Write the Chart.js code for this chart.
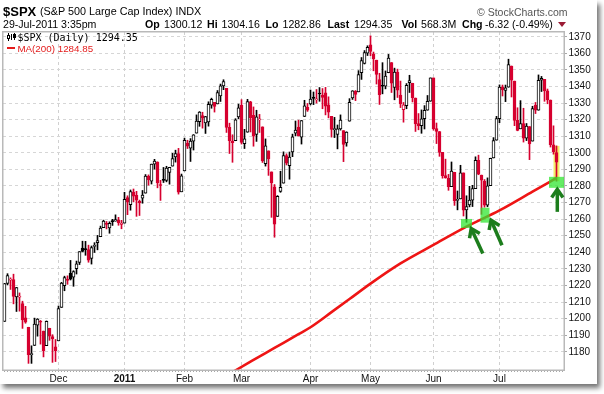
<!DOCTYPE html>
<html>
<head>
<meta charset="utf-8">
<title>$SPX</title>
<script src="https://cdn.jsdelivr.net/npm/chart.js@4.4.1/dist/chart.umd.min.js"></script>
<style>
  html, body { margin: 0; padding: 0; background: #fff; }
  #wrap { position: relative; width: 604px; height: 394px; overflow: hidden; font-family: 'Liberation Sans', Arial, sans-serif; color: #000; }
  #frame { position: absolute; left: 0; top: 0; width: 597px; height: 384px; background: #fff; box-shadow: 3px 4px 5px rgba(0,0,0,.55); }
  #c { position: absolute; left: 0; top: 0; }
  .t { position: absolute; white-space: nowrap; line-height: 1; }
  .hd { top: 19.2px; font-size: 10.6px; }
</style>
</head>
<body>
<div id="wrap">
  <div id="frame"></div>
  <canvas id="c" width="604" height="394"></canvas>

  <div class="t" style="left:3px;top:5px;font-size:13px;font-weight:bold">$SPX</div>
  <div class="t" style="left:40px;top:6.4px;font-size:10.8px">(S&amp;P 500 Large Cap Index) INDX</div>
  <div class="t" style="left:477px;top:6.9px;font-size:10.5px;color:#555">© StockCharts.com</div>

  <div class="t hd" style="left:3px">29-Jul-2011 3:35pm</div>
  <div class="t hd" style="left:145px;font-weight:bold">Op</div>
  <div class="t hd" style="left:164px">1300.12</div>
  <div class="t hd" style="left:207px;font-weight:bold">Hi</div>
  <div class="t hd" style="left:221.5px">1304.16</div>
  <div class="t hd" style="left:265.5px;font-weight:bold">Lo</div>
  <div class="t hd" style="left:282.5px">1282.86</div>
  <div class="t hd" style="left:327.5px;font-weight:bold">Last</div>
  <div class="t hd" style="left:354px">1294.35</div>
  <div class="t hd" style="left:401.5px;font-weight:bold">Vol</div>
  <div class="t hd" style="left:421px">568.3M</div>
  <div class="t hd" style="left:462px;font-weight:bold">Chg</div>
  <div class="t hd" style="left:485px">-6.32 (-0.49%)</div>
  <div class="t" style="left:558px;top:22px;width:0;height:0;border-left:4px solid transparent;border-right:4px solid transparent;border-top:5px solid #9b1b35"></div>

  <svg class="t" style="left:7px;top:33px" width="10" height="8">
    <path d="M1.5 0v8M4.5 1v6M7.5 0v7" stroke="#000" stroke-width="1"/>
    <rect x="0.5" y="2.5" width="2" height="3" fill="#fff" stroke="#000"/>
    <rect x="6.5" y="1.5" width="2" height="3" fill="#000" stroke="#000"/>
  </svg>
  <div class="t" style="left:17.4px;top:32.6px;font-family:'DejaVu Sans Mono',monospace;font-size:10px">$SPX (Daily) 1294.35</div>
  <div class="t" style="left:7px;top:47px;width:8px;height:2px;background:#e41b1b"></div>
  <div class="t" style="left:17.4px;top:44px;font-size:9.8px;color:#e41b1b">MA(200) 1284.85</div>
</div>

<script>
// trading days, by month
var months = ['2010-11', '2010-12', '2011-01', '2011-02', '2011-03', '2011-04', '2011-05', '2011-06', '2011-07'];
var monthNames = ['', 'Dec', '2011', 'Feb', 'Mar', 'Apr', 'May', 'Jun', 'Jul'];
var monthDays = [
  [4, 5, 8, 9, 10, 11, 12, 15, 16, 17, 18, 19, 22, 23, 24, 26, 29, 30],
  [1, 2, 3, 6, 7, 8, 9, 10, 13, 14, 15, 16, 17, 20, 21, 22, 23, 27, 28, 29, 30, 31],
  [3, 4, 5, 6, 7, 10, 11, 12, 13, 14, 18, 19, 20, 21, 24, 25, 26, 27, 28, 31],
  [1, 2, 3, 4, 7, 8, 9, 10, 11, 14, 15, 16, 17, 18, 22, 23, 24, 25, 28],
  [1, 2, 3, 4, 7, 8, 9, 10, 11, 14, 15, 16, 17, 18, 21, 22, 23, 24, 25, 28, 29, 30, 31],
  [1, 4, 5, 6, 7, 8, 11, 12, 13, 14, 15, 18, 19, 20, 21, 25, 26, 27, 28, 29],
  [2, 3, 4, 5, 6, 9, 10, 11, 12, 13, 16, 17, 18, 19, 20, 23, 24, 25, 26, 27, 31],
  [1, 2, 3, 6, 7, 8, 9, 10, 13, 14, 15, 16, 17, 20, 21, 22, 23, 24, 27, 28, 29, 30],
  [1, 5, 6, 7, 8, 11, 12, 13, 14, 15, 18, 19, 20, 21, 22, 25, 26, 27, 28, 29]
];

var open = [
  1198.3, 1221.2, 1223.2, 1223.6, 1213.1, 1213.0, 1209.1, 1200.4, 1194.8, 1178.3, 1183.8, 1196.1, 1198.1, 1192.5, 1183.7, 1194.2, 1189.1, 1183.0,
  1186.6, 1206.8, 1219.9, 1223.9, 1227.3, 1225.0, 1230.1, 1233.9, 1242.5, 1241.8, 1241.6, 1236.3, 1243.6, 1245.8, 1249.4, 1254.9, 1257.5, 1254.7, 1259.1, 1258.8, 1259.4, 1256.8,
  1257.6, 1273.0, 1268.8, 1276.3, 1274.4, 1270.8, 1272.6, 1275.7, 1285.8, 1282.9, 1293.2, 1294.5, 1280.9, 1283.6, 1283.3, 1288.2, 1292.0, 1297.5, 1299.6, 1276.5,
  1289.1, 1305.9, 1302.8, 1307.0, 1311.9, 1318.8, 1322.5, 1318.1, 1318.7, 1328.7, 1330.4, 1329.5, 1334.4, 1340.4, 1338.9, 1315.4, 1307.1, 1307.3, 1321.6,
  1328.6, 1305.5, 1312.4, 1330.7, 1322.7, 1311.1, 1319.9, 1315.7, 1293.4, 1301.2, 1288.5, 1279.5, 1261.6, 1276.7, 1281.7, 1298.3, 1292.2, 1300.6, 1311.8, 1315.5, 1309.4, 1321.9, 1327.4,
  1329.5, 1333.6, 1332.0, 1335.9, 1334.8, 1336.2, 1329.0, 1322.0, 1314.0, 1311.1, 1314.5, 1313.4, 1306.0, 1319.1, 1333.2, 1337.1, 1336.8, 1348.4, 1353.9, 1360.1,
  1365.2, 1359.8, 1355.9, 1344.2, 1340.2, 1340.2, 1348.3, 1354.5, 1339.4, 1348.7, 1334.8, 1326.1, 1328.5, 1342.4, 1342.0, 1333.1, 1317.7, 1316.4, 1320.6, 1325.7, 1331.1,
  1345.2, 1314.6, 1312.9, 1300.3, 1286.3, 1284.6, 1279.6, 1288.3, 1271.3, 1272.2, 1287.9, 1265.5, 1268.6, 1271.5, 1278.4, 1295.5, 1286.6, 1283.0, 1268.4, 1280.2, 1296.9, 1307.6,
  1320.6, 1339.6, 1337.6, 1339.6, 1352.4, 1343.3, 1319.6, 1314.5, 1317.7, 1308.9, 1315.9, 1307.1, 1328.7, 1325.7, 1343.8, 1344.3, 1337.4, 1331.9, 1304.8, 1300.1
];
var high = [
  1221.3, 1227.1, 1224.6, 1226.8, 1218.8, 1215.5, 1210.5, 1207.4, 1194.8, 1183.6, 1200.3, 1200.0, 1198.9, 1192.5, 1198.6, 1194.2, 1190.3, 1187.4,
  1207.6, 1221.9, 1225.6, 1225.8, 1235.1, 1228.9, 1234.7, 1240.4, 1246.7, 1246.6, 1244.3, 1243.8, 1245.8, 1250.2, 1255.8, 1259.4, 1258.6, 1258.4, 1259.9, 1262.6, 1261.1, 1259.3,
  1276.2, 1274.1, 1277.6, 1278.2, 1276.8, 1271.5, 1277.3, 1286.9, 1286.7, 1293.2, 1296.1, 1294.6, 1283.4, 1291.2, 1291.9, 1291.3, 1299.7, 1301.6, 1302.7, 1287.2,
  1308.9, 1307.6, 1308.6, 1311.0, 1322.9, 1324.9, 1324.5, 1322.0, 1330.8, 1333.0, 1330.4, 1337.6, 1341.5, 1344.1, 1338.9, 1317.9, 1310.9, 1320.6, 1329.4,
  1332.1, 1314.2, 1332.3, 1331.1, 1327.7, 1325.7, 1323.2, 1315.7, 1308.4, 1301.2, 1288.5, 1280.9, 1274.2, 1288.9, 1300.6, 1299.4, 1300.5, 1311.3, 1319.2, 1319.7, 1319.5, 1331.7, 1329.8,
  1337.9, 1336.7, 1338.2, 1339.4, 1338.8, 1339.5, 1333.8, 1322.0, 1321.4, 1316.8, 1322.9, 1313.4, 1312.7, 1332.7, 1337.5, 1337.6, 1349.6, 1357.5, 1361.7, 1364.6,
  1370.6, 1360.8, 1355.9, 1348.0, 1354.4, 1349.4, 1359.4, 1354.5, 1351.1, 1350.5, 1343.3, 1330.4, 1341.8, 1346.8, 1342.0, 1333.1, 1323.7, 1325.9, 1328.5, 1334.6, 1345.2,
  1345.2, 1318.0, 1312.9, 1300.3, 1296.2, 1287.0, 1294.5, 1288.3, 1277.0, 1292.5, 1287.9, 1274.1, 1279.8, 1280.4, 1297.6, 1298.6, 1286.6, 1283.9, 1284.9, 1296.8, 1309.2, 1322.0,
  1341.0, 1340.9, 1340.9, 1356.5, 1352.4, 1343.3, 1327.2, 1331.5, 1326.9, 1317.7, 1315.9, 1328.1, 1330.4, 1347.0, 1346.1, 1344.3, 1338.5, 1331.9, 1316.3, 1304.2
];
var low = [
  1198.3, 1220.3, 1217.6, 1208.9, 1204.3, 1204.5, 1194.1, 1197.2, 1173.0, 1173.0, 1183.8, 1189.4, 1184.6, 1176.9, 1183.7, 1186.9, 1173.6, 1174.1,
  1186.6, 1206.8, 1216.8, 1220.7, 1223.3, 1219.5, 1226.9, 1232.6, 1240.3, 1238.2, 1234.0, 1232.9, 1239.9, 1241.5, 1249.4, 1254.9, 1254.1, 1251.5, 1256.2, 1258.8, 1256.3, 1254.2,
  1257.6, 1262.7, 1265.4, 1270.4, 1261.7, 1262.2, 1269.6, 1275.7, 1280.5, 1281.2, 1290.2, 1278.9, 1271.3, 1282.1, 1282.5, 1281.1, 1292.0, 1294.4, 1275.1, 1276.5,
  1289.1, 1302.6, 1294.8, 1301.7, 1311.9, 1316.0, 1314.9, 1311.7, 1316.1, 1326.9, 1324.6, 1329.5, 1331.0, 1338.1, 1312.3, 1299.6, 1294.3, 1307.3, 1320.6,
  1305.3, 1302.6, 1312.4, 1312.6, 1304.0, 1306.9, 1312.3, 1294.2, 1292.0, 1286.4, 1261.1, 1249.1, 1261.6, 1276.2, 1281.7, 1292.7, 1284.1, 1297.7, 1310.2, 1310.2, 1305.3, 1321.9, 1325.0,
  1328.9, 1329.1, 1330.0, 1331.1, 1326.6, 1322.9, 1321.1, 1309.5, 1309.2, 1302.4, 1313.7, 1294.7, 1304.0, 1319.1, 1332.2, 1331.5, 1336.8, 1344.3, 1353.6, 1358.7,
  1358.6, 1349.5, 1341.5, 1329.2, 1335.6, 1338.6, 1348.3, 1336.4, 1332.0, 1333.4, 1327.3, 1318.5, 1326.6, 1336.4, 1330.7, 1312.9, 1313.9, 1311.8, 1314.4, 1325.7, 1331.1,
  1313.7, 1305.6, 1297.9, 1284.7, 1284.7, 1277.4, 1279.6, 1268.3, 1265.6, 1272.2, 1261.9, 1258.1, 1267.4, 1267.6, 1278.4, 1286.8, 1262.9, 1267.2, 1267.5, 1280.2, 1296.9, 1307.6,
  1318.2, 1334.3, 1330.9, 1339.6, 1333.7, 1316.4, 1313.3, 1314.5, 1306.5, 1307.4, 1295.9, 1307.1, 1323.7, 1325.7, 1337.0, 1331.1, 1329.6, 1303.5, 1299.2, 1282.9
];
var close = [
  1221.1, 1225.9, 1223.3, 1213.4, 1218.7, 1213.5, 1199.2, 1197.8, 1178.3, 1178.6, 1196.7, 1199.7, 1197.8, 1180.7, 1198.4, 1189.4, 1187.8, 1180.6,
  1206.1, 1221.5, 1224.7, 1223.1, 1223.8, 1228.3, 1233.0, 1240.4, 1240.5, 1241.6, 1235.2, 1242.9, 1243.9, 1247.1, 1254.6, 1258.8, 1256.8, 1257.5, 1258.5, 1259.8, 1257.9, 1257.6,
  1271.9, 1270.2, 1276.6, 1273.9, 1271.5, 1269.8, 1274.5, 1286.0, 1283.8, 1293.2, 1295.0, 1281.9, 1280.3, 1283.4, 1290.8, 1291.2, 1296.6, 1299.5, 1276.3, 1286.1,
  1307.6, 1304.0, 1307.1, 1310.9, 1319.1, 1324.6, 1320.9, 1321.9, 1329.2, 1332.3, 1328.0, 1336.3, 1340.4, 1343.0, 1315.4, 1307.4, 1306.1, 1319.9, 1327.2,
  1306.3, 1308.4, 1331.0, 1321.2, 1310.1, 1321.8, 1320.0, 1295.1, 1304.3, 1296.4, 1281.9, 1256.9, 1273.7, 1279.2, 1298.4, 1293.8, 1297.5, 1309.7, 1313.8, 1310.2, 1319.4, 1328.3, 1325.8,
  1332.4, 1332.9, 1332.6, 1335.5, 1333.5, 1328.2, 1324.5, 1314.2, 1314.4, 1314.5, 1319.7, 1305.1, 1312.6, 1330.4, 1337.4, 1335.3, 1347.2, 1355.7, 1360.5, 1363.6,
  1361.2, 1356.6, 1347.3, 1335.1, 1340.2, 1346.3, 1357.2, 1342.1, 1348.7, 1337.8, 1329.5, 1329.0, 1340.7, 1343.6, 1333.3, 1317.4, 1316.3, 1320.5, 1325.7, 1331.1, 1345.2,
  1314.6, 1312.9, 1300.2, 1286.2, 1284.9, 1279.6, 1289.0, 1271.0, 1271.8, 1287.9, 1265.4, 1267.6, 1271.5, 1278.4, 1295.5, 1287.1, 1283.5, 1268.5, 1280.1, 1296.7, 1307.4, 1320.6,
  1339.7, 1337.9, 1339.2, 1353.2, 1343.8, 1319.5, 1313.6, 1317.7, 1308.9, 1316.1, 1305.4, 1326.7, 1325.8, 1343.8, 1345.0, 1337.4, 1331.9, 1304.9, 1300.7, 1294.4
];
var prevClose = 1198.0; // close of 3-Nov-2010

// MA(200) at these bars
var maBars = [75, 82, 87, 93, 98, 102, 109, 115, 122, 132, 143, 154, 165, 176, 184];
var maValues = [1166.7, 1174.0, 1179.2, 1185.4, 1190.6, 1194.8, 1203.9, 1211.8, 1221.1, 1233.3, 1244.5, 1255.5, 1265.3, 1276.6, 1284.85];

// green touch marks on the MA
var markBars = [154, 160, 184];
var markValues = [1257.4, 1262.4, 1282.2];

var yTicks = [1180, 1370, 10];

// ---- build
var labels = [];
var tickText = [];
months.forEach(function (m, k) {
  monthDays[k].forEach(function (d, j) {
    labels.push(m + '-' + (d < 10 ? '0' + d : d));
    tickText.push(j === 0 ? monthNames[k] : '');
  });
});
// room on the right of the last bar
labels.push('', '');
tickText.push('', '');

var BLACK = '#000000', RED = '#d6002f';
var colors = [], fills = [], wicks = [], bodies = [];
for (var i = 0; i < close.length; i++) {
  var pc = i === 0 ? prevClose : close[i - 1];
  var col = close[i] >= pc ? BLACK : RED;
  colors.push(col);
  fills.push(close[i] > open[i] ? '#ffffff' : col);
  wicks.push([low[i], high[i]]);
  bodies.push([Math.min(open[i], close[i]), Math.max(open[i], close[i])]);
}
var maData = labels.map(function () { return null; });
maBars.forEach(function (b, j) { maData[b] = maValues[j]; });

var boldIndex = tickText.indexOf('2011');

var extras = {
  id: 'extras',
  beforeDatasetsDraw: function (chart) {
    var ctx = chart.ctx, x = chart.scales.x, y = chart.scales.y;
    var last = close.length - 1;
    var px = x.getPixelForValue(last);
    ctx.save();
    ctx.fillStyle = '#f2ee6a';
    ctx.fillRect(px - 3, y.getPixelForValue(high[last]), 6, y.getPixelForValue(low[last]) - y.getPixelForValue(high[last]));
    ctx.restore();
  },
  afterDatasetsDraw: function (chart) {
    var ctx = chart.ctx, a = chart.chartArea, x = chart.scales.x, y = chart.scales.y;
    ctx.save();
    // plot frame
    ctx.strokeStyle = '#b9b9b9';
    ctx.lineWidth = 1.5;
    ctx.strokeRect(a.left - 0.25, a.top - 0.25, a.right - a.left + 0.5, a.bottom - a.top + 0.5);

    var sizes = [[11, 9], [9, 15], [15, 11]];
    var arrows = [[4.7, 5, 16.3, 30], [6, 5, 17, 30], [0.8, 7, 0.8, 29.5]];
    markBars.forEach(function (b, j) {
      var cx = x.getPixelForValue(b) + (j === 1 ? 0.5 : 0), cy = y.getPixelForValue(markValues[j]);
      ctx.fillStyle = 'rgba(50,230,50,0.75)';
      ctx.fillRect(cx - sizes[j][0] / 2, cy - sizes[j][1] / 2, sizes[j][0], sizes[j][1]);
      var hx = cx + arrows[j][0], hy = cy + arrows[j][1], tx = cx + arrows[j][2], ty = cy + arrows[j][3];
      var ang = Math.atan2(hy - ty, hx - tx);
      ctx.strokeStyle = '#1c7d1c';
      ctx.lineWidth = 3.5;
      ctx.lineCap = 'butt';
      ctx.beginPath();
      ctx.moveTo(tx, ty);
      ctx.lineTo(hx - 1.5 * Math.cos(ang), hy - 1.5 * Math.sin(ang));
      ctx.stroke();
      ctx.beginPath();
      ctx.moveTo(hx - 10 * Math.cos(ang - 0.6), hy - 10 * Math.sin(ang - 0.6));
      ctx.lineTo(hx, hy);
      ctx.lineTo(hx - 10 * Math.cos(ang + 0.6), hy - 10 * Math.sin(ang + 0.6));
      ctx.stroke();
    });
    ctx.restore();
  }
};

new Chart(document.getElementById('c'), {
  type: 'bar',
  data: {
    labels: labels,
    datasets: [{
      type: 'line',
      label: 'MA(200)',
      data: maData,
      borderColor: '#ee1515',
      borderWidth: 2.6,
      pointRadius: 0,
      spanGaps: true,
      cubicInterpolationMode: 'monotone',
      order: 0
    }, {
      label: 'body',
      data: bodies,
      backgroundColor: fills,
      borderColor: colors,
      borderWidth: 1,
      borderSkipped: false,
      barThickness: 3,
      minBarLength: 1,
      grouped: false,
      order: 1
    }, {
      label: 'wick',
      data: wicks,
      backgroundColor: colors,
      borderWidth: 0,
      barThickness: 1,
      grouped: false,
      order: 2
    }]
  },
  options: {
    responsive: false,
    animation: false,
    devicePixelRatio: 1,
    layout: { padding: { left: 3, right: 6, top: 32, bottom: 8 } },
    plugins: { legend: { display: false }, tooltip: { enabled: false } },
    scales: {
      x: {
        type: 'category',
        offset: true,
        grid: {
          offset: false,
          color: function (c) { return tickText[c.index] ? '#d0d0d0' : 'rgba(0,0,0,0)'; },
          tickColor: '#a8a8a8',
          tickLength: 2,
          drawTicks: true
        },
        border: { display: false, dash: [3, 3] },
        ticks: {
          autoSkip: false,
          maxRotation: 0,
          minRotation: 0,
          padding: 1,
          color: '#111',
          font: function (c) {
            return { family: "'Liberation Sans', Arial, sans-serif", size: 10, weight: c.index === boldIndex ? 'bold' : 'normal' };
          },
          callback: function (v, i) { return tickText[i]; }
        },
        afterFit: function (s) { s.height = 16; }
      },
      y: {
        position: 'right',
        min: 1169,
        max: 1372.9,
        afterBuildTicks: function (s) {
          s.ticks = s.ticks.filter(function (t) { return t.value >= yTicks[0] && t.value <= yTicks[1]; });
        },
        grid: { color: '#d6d6d6', tickColor: '#a8a8a8', tickLength: 3, drawTicks: true },
        border: { display: false, dash: [3, 3] },
        ticks: {
          stepSize: yTicks[2],
          includeBounds: false,
          padding: 1.5,
          color: '#111',
          font: { family: "'Liberation Sans', Arial, sans-serif", size: 10 },
          callback: function (v) { return String(v); }
        },
        afterFit: function (s) { s.width = 34; }
      }
    }
  },
  plugins: [extras]
});
</script>
</body>
</html>
